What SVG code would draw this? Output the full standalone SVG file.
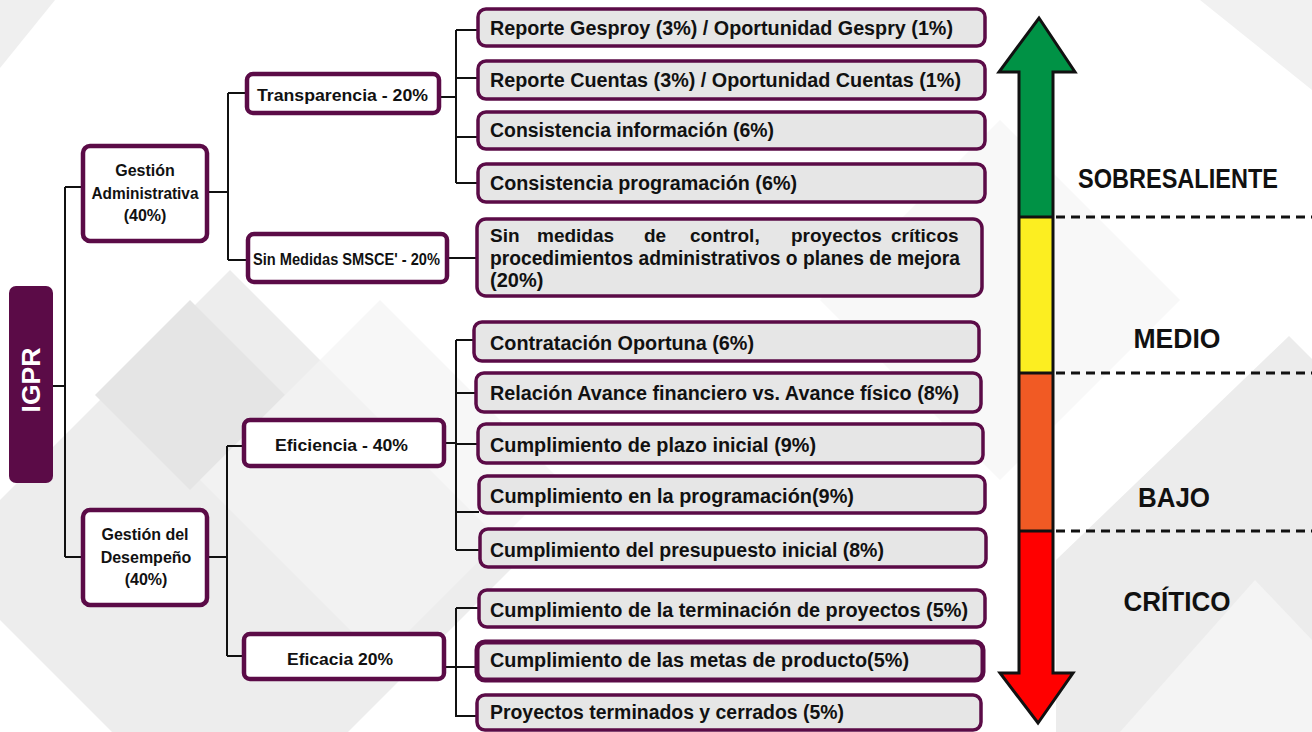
<svg xmlns="http://www.w3.org/2000/svg" width="1312" height="732" viewBox="0 0 1312 732">
<style>
text{font-family:"Liberation Sans",Arial,sans-serif;font-weight:bold;fill:#111}
.leaf rect{fill:#e6e6e6;stroke:#5b0b47;stroke-width:3.5}
.mid rect{fill:#ffffff;stroke:#5b0b47;stroke-width:4.5}
.lt{font-size:20px}
.mt{font-size:17px}
.st{font-size:16px;text-anchor:middle}
.conn path{fill:none;stroke:#111;stroke-width:2}
.lvl{font-size:27px;text-anchor:middle}
.dash{stroke:#111;stroke-width:3;stroke-dasharray:9 6;fill:none}
</style>
<g id="background">
<rect x="0" y="0" width="1312" height="732" fill="#ffffff"/>
<polygon points="0,0 55,0 0,68" fill="#efefef"/>
<polygon points="230,270 520,560 230,850 -60,560" fill="#ededed"/>
<polygon points="190,300 285,395 190,490 95,395" fill="#e5e5e5"/>
<polygon points="380,300 560,480 380,660 200,480" fill="#f4f4f4" opacity="0.7"/>
<polygon points="1312,90 1312,0 1200,0" fill="#f1f1f1"/>
<polygon points="1056,560 1289,336 1312,359 1312,732 1056,732" fill="#ececec"/>
<polygon points="1120,732 1255,580 1312,640 1312,732" fill="#f4f4f4"/>
<polygon points="820,300 1000,120 1180,300 1000,480" fill="#f3f3f3" opacity="0.6"/>
</g>
<g id="connectors" class="conn">
<path d="M53 386H65M65 187V557M65 187H83M65 557H83"/>
<path d="M208 192H228M228 93V260M228 93H247M228 260H248"/>
<path d="M440 97H456M456 30V183M456 30H478M456 78H478M456 137H478M456 183H478"/>
<path d="M448 258H477"/>
<path d="M208 557H227M227 446V656M227 446H244M227 656H244"/>
<path d="M444 443H456M456 340V550M456 340H474M456 393H476M456 444H478M456 512H479M456 550H480"/>
<path d="M444 667H456M456 608V717M456 608H479M456 667H477M456 716H477"/>
</g>
<g id="igpr">
<rect x="9" y="286" width="44" height="197" rx="7" fill="#5b0b47"/>
<text transform="translate(40,380) rotate(-90)" style="font-size:26px;fill:#ffffff;text-anchor:middle" textLength="65" lengthAdjust="spacingAndGlyphs">IGPR</text>
</g>
<g id="gestion-administrativa" class="mid">
<rect x="83" y="146" width="124" height="95" rx="7"/>
<text class="st" x="145" y="176">Gestión</text>
<text class="st" x="145" y="199" textLength="107" lengthAdjust="spacingAndGlyphs">Administrativa</text>
<text class="st" x="145" y="221">(40%)</text>
</g>
<g id="gestion-desempeno" class="mid">
<rect x="83" y="510" width="124" height="95" rx="7"/>
<text class="st" x="145" y="540">Gestión del</text>
<text class="st" x="146" y="563">Desempeño</text>
<text class="st" x="146" y="585">(40%)</text>
</g>
<g id="transparencia" class="mid">
<rect x="247" y="74" width="192" height="39" rx="6"/>
<text class="mt" x="257" y="101" textLength="171" lengthAdjust="spacingAndGlyphs">Transparencia - 20%</text>
</g>
<g id="sin-medidas" class="mid">
<rect x="248" y="234" width="199" height="48" rx="6"/>
<text class="mt" x="253" y="265" textLength="187" lengthAdjust="spacingAndGlyphs">Sin Medidas SMSCE' - 20%</text>
</g>
<g id="eficiencia" class="mid">
<rect x="244" y="420" width="200" height="46" rx="6"/>
<text class="mt" x="275" y="451" textLength="133" lengthAdjust="spacingAndGlyphs">Eficiencia - 40%</text>
</g>
<g id="eficacia" class="mid">
<rect x="244" y="634" width="200" height="45" rx="6"/>
<text class="mt" x="287" y="665" textLength="106" lengthAdjust="spacingAndGlyphs">Eficacia 20%</text>
</g>
<g id="leaf-gesproy" class="leaf">
<rect x="478" y="9" width="507" height="37" rx="8"/>
<text class="lt" x="490" y="35" textLength="463" lengthAdjust="spacingAndGlyphs">Reporte Gesproy (3%) / Oportunidad Gespry (1%)</text>
</g>
<g id="leaf-cuentas" class="leaf">
<rect x="478" y="61" width="507" height="38" rx="8"/>
<text class="lt" x="490" y="87" textLength="471" lengthAdjust="spacingAndGlyphs">Reporte Cuentas (3%) / Oportunidad Cuentas (1%)</text>
</g>
<g id="leaf-cons-info" class="leaf">
<rect x="478" y="112" width="507" height="37" rx="8"/>
<text class="lt" x="490" y="137" textLength="284" lengthAdjust="spacingAndGlyphs">Consistencia información (6%)</text>
</g>
<g id="leaf-cons-prog" class="leaf">
<rect x="478" y="164" width="507" height="38" rx="8"/>
<text class="lt" x="490" y="190" textLength="307" lengthAdjust="spacingAndGlyphs">Consistencia programación (6%)</text>
</g>
<g id="leaf-sin-medidas" class="leaf">
<rect x="477" y="219" width="505" height="77" rx="9"/>
<text style="font-size:19px" y="242"><tspan x="490">Sin</tspan><tspan x="537">medidas</tspan><tspan x="644">de</tspan><tspan x="690">control,</tspan><tspan x="791">proyectos</tspan><tspan x="891">críticos</tspan></text>
<text class="lt" x="490" y="265" textLength="470" lengthAdjust="spacingAndGlyphs">procedimientos administrativos o planes de mejora</text>
<text class="lt" x="490" y="287">(20%)</text>
</g>
<g id="leaf-contratacion" class="leaf">
<rect x="474" y="322" width="505" height="39" rx="8"/>
<text class="lt" x="490" y="350" textLength="264" lengthAdjust="spacingAndGlyphs">Contratación Oportuna (6%)</text>
</g>
<g id="leaf-relacion" class="leaf">
<rect x="476" y="373" width="505" height="39" rx="8"/>
<text class="lt" x="490" y="400" textLength="469" lengthAdjust="spacingAndGlyphs">Relación Avance financiero vs. Avance físico (8%)</text>
</g>
<g id="leaf-plazo" class="leaf">
<rect x="478" y="424" width="505" height="39" rx="8"/>
<text class="lt" x="490" y="452" textLength="326" lengthAdjust="spacingAndGlyphs">Cumplimiento de plazo inicial (9%)</text>
</g>
<g id="leaf-programacion" class="leaf">
<rect x="479" y="476" width="506" height="37" rx="8"/>
<text class="lt" x="490" y="503" textLength="364" lengthAdjust="spacingAndGlyphs">Cumplimiento en la programación(9%)</text>
</g>
<g id="leaf-presupuesto" class="leaf">
<rect x="480" y="529" width="506" height="38" rx="8"/>
<text class="lt" x="490" y="557" textLength="394" lengthAdjust="spacingAndGlyphs">Cumplimiento del presupuesto inicial (8%)</text>
</g>
<g id="leaf-terminacion" class="leaf">
<rect x="479" y="590" width="506" height="37" rx="8"/>
<text class="lt" x="490" y="617" textLength="478" lengthAdjust="spacingAndGlyphs">Cumplimiento de la terminación de proyectos (5%)</text>
</g>
<g id="leaf-metas" class="leaf">
<rect x="477" y="642" width="506" height="38" rx="8" style="stroke-width:5"/>
<text class="lt" x="490" y="667" textLength="419" lengthAdjust="spacingAndGlyphs">Cumplimiento de las metas de producto(5%)</text>
</g>
<g id="leaf-cerrados" class="leaf">
<rect x="477" y="695" width="504" height="35" rx="8"/>
<text class="lt" x="490" y="719" textLength="354" lengthAdjust="spacingAndGlyphs">Proyectos terminados y cerrados (5%)</text>
</g>
<g id="scale-arrow">
<polygon points="1039,18 1075,72 1053,72 1053,217 1019,217 1019,72 999,72" fill="#009245"/>
<rect x="1019" y="217" width="34" height="156" fill="#fcee21"/>
<rect x="1019" y="373" width="34" height="158" fill="#f15a24"/>
<polygon points="1019,531 1053,531 1053,673 1073,673 1038,723 1000,673 1019,673" fill="#ff0000"/>
<path d="M1019 217H1053M1019 373H1053M1019 531H1053" stroke="#111" stroke-width="3"/>
<polygon points="1039,18 1075,72 1053,72 1053,673 1073,673 1038,723 1000,673 1019,673 1019,72 999,72" fill="none" stroke="#111" stroke-width="3" stroke-linejoin="miter"/>
</g>
<g id="levels">
<path class="dash" d="M1056 217H1312M1056 373H1312M1056 531H1312"/>
<text class="lvl" x="1178" y="188" textLength="200" lengthAdjust="spacingAndGlyphs">SOBRESALIENTE</text>
<text class="lvl" x="1177" y="348" textLength="87" lengthAdjust="spacingAndGlyphs">MEDIO</text>
<text class="lvl" x="1174" y="507" textLength="72" lengthAdjust="spacingAndGlyphs">BAJO</text>
<text class="lvl" x="1177" y="611" textLength="107" lengthAdjust="spacingAndGlyphs">CRÍTICO</text>
</g>
</svg>
